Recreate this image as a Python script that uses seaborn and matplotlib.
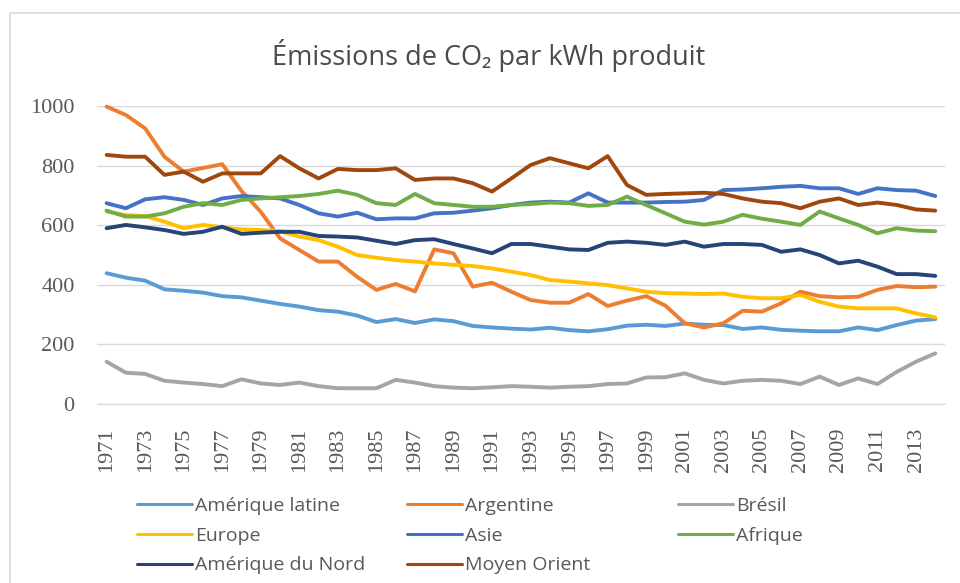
import matplotlib
matplotlib.use("Agg")
import matplotlib.pyplot as plt
import matplotlib.patches as mpatches
import seaborn as sns
import pandas as pd

years = list(range(1971, 2015))

amerique_latine = [439, 424, 414, 385, 380, 374, 362, 358, 347, 336, 327, 315, 310, 297, 275,
                   285, 272, 284, 278, 262, 257, 253, 250, 256, 248, 244, 251, 263, 266, 262,
                   270, 266, 265, 252, 257, 249, 246, 244, 244, 257, 248, 265, 280, 285]
argentine = [998, 970, 925, 830, 780, 792, 805, 715, 645, 556, 517, 478, 478, 427, 383,
             403, 378, 519, 506, 394, 407, 377, 349, 340, 340, 369, 329, 347, 362, 330,
             271, 257, 271, 313, 310, 338, 377, 362, 358, 360, 383, 396, 392, 394]
bresil = [142, 105, 101, 78, 72, 67, 60, 83, 69, 64, 72, 60, 53, 53, 53,
          81, 72, 60, 55, 53, 56, 60, 58, 55, 58, 60, 67, 69, 89, 90,
          103, 81, 69, 78, 81, 78, 67, 92, 64, 86, 67, 108, 142, 170]
europe = [646, 634, 631, 612, 590, 601, 593, 586, 584, 580, 562, 550, 528, 500, 491,
          483, 478, 472, 467, 463, 455, 444, 433, 416, 411, 405, 399, 388, 377, 372,
          371, 369, 371, 360, 355, 355, 366, 343, 327, 321, 321, 321, 304, 291]
asie = [674, 657, 687, 694, 685, 668, 690, 698, 694, 690, 668, 640, 629, 642, 620,
        623, 623, 640, 642, 649, 657, 668, 676, 679, 676, 707, 676, 676, 676, 678,
        679, 685, 718, 720, 724, 729, 732, 724, 724, 705, 724, 718, 716, 698]
afrique = [649, 629, 629, 640, 662, 674, 668, 685, 690, 694, 698, 705, 716, 702, 674,
           668, 705, 674, 668, 662, 662, 668, 671, 676, 674, 665, 668, 696, 668, 640,
           612, 602, 612, 635, 622, 612, 601, 646, 623, 601, 573, 590, 582, 580]
amerique_nord = [590, 601, 593, 584, 571, 578, 595, 571, 575, 578, 578, 564, 562, 559, 548,
                 537, 550, 553, 537, 522, 506, 537, 537, 528, 519, 517, 541, 545, 541, 534,
                 545, 528, 537, 537, 534, 511, 519, 500, 472, 481, 461, 436, 436, 430]
moyen_orient = [836, 830, 830, 769, 780, 746, 774, 774, 774, 832, 791, 757, 789, 785, 785,
                791, 752, 757, 757, 741, 713, 757, 802, 825, 808, 791, 832, 735, 702, 705,
                707, 709, 705, 690, 679, 674, 657, 679, 690, 668, 676, 668, 653, 649]

regions = ["Amérique latine", "Argentine", "Brésil", "Europe", "Asie", "Afrique",
           "Amérique du Nord", "Moyen Orient"]
series = [amerique_latine, argentine, bresil, europe, asie, afrique, amerique_nord, moyen_orient]
colors = ["#5B9BD5", "#ED7D31", "#A5A5A5", "#FFC000", "#4472C4", "#70AD47",
          "#264478", "#9E480E"]

df = pd.DataFrame({"annee": years})
for name, vals in zip(regions, series):
    df[name] = vals
long_df = df.melt(id_vars="annee", var_name="region", value_name="valeur")

sns.set_style("white")
plt.rcParams["font.family"] = ["Open Sans", "DejaVu Sans"]

fig = plt.figure(figsize=(9.6, 5.83), dpi=100)
ax = fig.add_axes([0.101, 0.307, 0.8833, 0.5111])

sns.lineplot(data=long_df, x="annee", y="valeur", hue="region", hue_order=regions,
             palette=dict(zip(regions, colors)), linewidth=2.8, ax=ax, legend=True)

ax.set_xlim(1970.5, 2014.5)
ax.set_ylim(0, 1000)
ax.set_yticks(range(0, 1001, 200))
ax.set_xticks(range(1971, 2014, 2))
ax.set_xticklabels([str(y) for y in range(1971, 2014, 2)], rotation=90)
ax.set_xlabel("")
ax.set_ylabel("")
ax.grid(axis="y", color="#D9D9D9", linewidth=1)
ax.grid(axis="x", visible=False)
ax.set_axisbelow(True)
for s in ["top", "right", "left"]:
    ax.spines[s].set_visible(False)
ax.spines["bottom"].set_color("#D9D9D9")
for line in ax.get_lines():
    line.set_clip_on(False)

ax.tick_params(axis="y", length=0, pad=16, labelsize=16, labelcolor="#595959")
ax.tick_params(axis="x", length=0, pad=17, labelsize=16, labelcolor="#595959")
for lab in ax.get_xticklabels() + ax.get_yticklabels():
    lab.set_family(["Liberation Serif", "DejaVu Serif"])

# legend: three columns like Excel
handles, labels = ax.get_legend_handles_labels()
ax.get_legend().remove()
lookup = dict(zip(labels, handles))
cols = [["Amérique latine", "Europe", "Amérique du Nord"],
        ["Argentine", "Asie", "Moyen Orient"],
        ["Brésil", "Afrique"]]
col_x = [137, 407, 678]
for names, x in zip(cols, col_x):
    leg = fig.legend([lookup[n] for n in names], names, loc="upper left",
                     bbox_to_anchor=(x / 960, 1 - 497 / 583), frameon=False,
                     borderpad=0, borderaxespad=0, handlelength=2.85, handletextpad=0.15,
                     labelspacing=0.6, fontsize=14, labelcolor="#595959")
    for h in leg.get_lines():
        h.set_linewidth(2.2)

fig.text(489 / 960, 1 - 56 / 583, "Émissions de CO₂ par kWh produit", ha="center",
         va="center", fontsize=19.5, color="#4a4a4a", family=["Open Sans", "DejaVu Sans"])

fig.patches.append(mpatches.Rectangle((10 / 960, -0.1), 1.2, 1 - 13 / 583 + 0.1,
                                      transform=fig.transFigure, fill=False,
                                      edgecolor="#D9D9D9", linewidth=1.2))

fig.savefig("out.png", dpi=100)
